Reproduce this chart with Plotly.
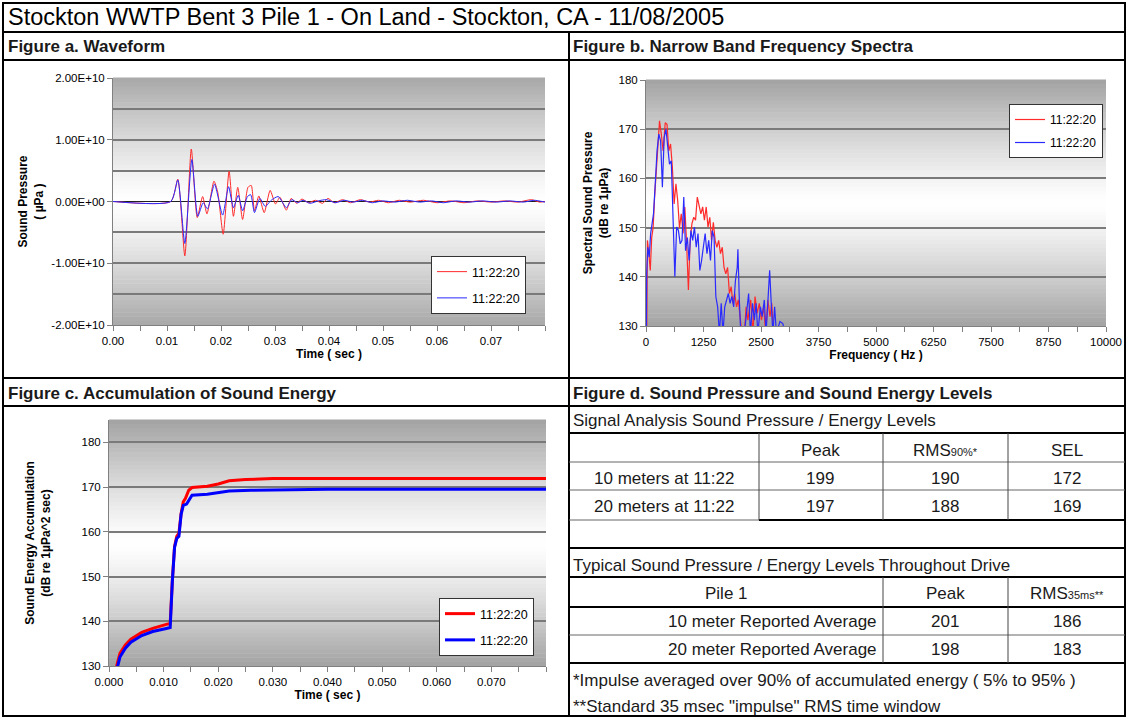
import plotly.graph_objects as go

W, H = 1128, 719
FONT = "Arial, 'Liberation Sans', sans-serif"

# ---------------- DATA ----------------
# Figure a: waveform (time in sec, sound pressure in µPa)
wave_time_red = [0.0000, 0.0107, 0.0120, 0.0133, 0.0145, 0.0156, 0.0166, 0.0174, 0.0187, 0.0194,
                 0.0204, 0.0215, 0.0223, 0.0231, 0.0240, 0.0250, 0.0256, 0.0262, 0.0270, 0.0280,
                 0.0291, 0.0301, 0.0309, 0.0321, 0.0330, 0.0340, 0.0350, 0.0362, 0.0375, 0.0388,
                 0.0398, 0.0410, 0.0425, 0.0440, 0.0458, 0.0475, 0.0492, 0.0510, 0.0530, 0.0550,
                 0.0575, 0.0600, 0.0625, 0.0650, 0.0675, 0.0700, 0.0725, 0.0750, 0.0775, 0.0790, 0.0800]
wave_red = [0.0, 0.0, 3.6e9, -8.8e9, 8.5e9, -2.6e9, 0.8e9, -2.0e9, 3.3e9, 1.5e9,
            -5.3e9, 4.9e9, -2.4e9, 2.3e9, -2.9e9, 2.3e9, 2.6e9, -1.5e9, 0.9e9, -1.8e9,
            1.8e9, -0.4e9, 0.7e9, -1.4e9, 0.5e9, -0.3e9, 0.4e9, -0.2e9, 0.2e9, -0.3e9,
            0.5e9, -0.2e9, 0.3e9, -0.2e9, 0.3e9, -0.1e9, 0.2e9, -0.2e9, 0.2e9, -0.1e9,
            0.2e9, -0.2e9, 0.1e9, -0.2e9, 0.1e9, -0.1e9, 0.1e9, -0.1e9, 0.3e9, -0.1e9, 0.0]

wave_time_blue = [0.0000, 0.0107, 0.0120, 0.0133, 0.0146, 0.0157, 0.0167, 0.0175, 0.0188, 0.0203,
                  0.0214, 0.0223, 0.0232, 0.0240, 0.0249, 0.0255, 0.0262, 0.0272, 0.0282, 0.0293,
                  0.0306, 0.0321, 0.0331, 0.0342, 0.0352, 0.0365, 0.0380, 0.0395, 0.0412, 0.0428,
                  0.0445, 0.0462, 0.0480, 0.0500, 0.0522, 0.0545, 0.0568, 0.0590, 0.0612, 0.0635,
                  0.0660, 0.0685, 0.0710, 0.0735, 0.0760, 0.0780, 0.0800]
wave_blue = [0.0, 0.0, 3.5e9, -6.8e9, 6.8e9, -2.4e9, -0.2e9, -1.2e9, 2.8e9, -2.2e9,
             2.4e9, -1.0e9, 1.0e9, -1.5e9, 0.8e9, 1.1e9, -1.8e9, 0.5e9, -0.8e9, 0.2e9,
             0.8e9, -1.0e9, 0.3e9, -0.2e9, 0.2e9, -0.3e9, 0.1e9, 0.3e9, -0.2e9, 0.2e9,
             -0.1e9, 0.2e9, -0.2e9, 0.1e9, -0.1e9, 0.2e9, -0.1e9, 0.1e9, -0.2e9, 0.1e9,
             -0.1e9, 0.1e9, -0.1e9, 0.1e9, -0.1e9, 0.2e9, -0.1e9]

wave_yticks = [-2e10, -1e10, 0, 1e10, 2e10]
wave_yticklabels = ["-2.00E+10", "-1.00E+10", "0.00E+00", "1.00E+10", "2.00E+10"]
wave_xticks = [0.00, 0.01, 0.02, 0.03, 0.04, 0.05, 0.06, 0.07]
wave_xticklabels = ["0.00", "0.01", "0.02", "0.03", "0.04", "0.05", "0.06", "0.07"]

# Figure b: narrow band spectra (Hz, dB re 1µPa)
spec_freq_red = [15, 31, 62, 93, 124, 155, 186, 225, 263, 294, 333, 372, 418, 457, 496, 534, 573, 612,
                 651, 689, 728, 767, 806, 844, 883, 922, 960, 999, 1038, 1077, 1115, 1154, 1193, 1232,
                 1270, 1309, 1348, 1387, 1425, 1464, 1503, 1541, 1580, 1619, 1658, 1696, 1735, 1774,
                 1813, 1851, 1890, 1929, 1968, 2006, 2045, 2084, 2138, 2177, 2215, 2277, 2324, 2370,
                 2417, 2463, 2510, 2556, 2603, 2649, 2696, 2734, 2773]
spec_red = [128.0, 147.4, 144.7, 141.3, 148.0, 150.0, 156.0, 162.0, 167.6, 171.7, 169.0, 165.6, 171.3,
            171.0, 165.6, 167.0, 162.3, 154.8, 158.9, 155.5, 150.0, 152.8, 148.8, 154.2, 146.7, 137.3,
            147.4, 150.8, 152.1, 151.5, 156.2, 154.8, 152.8, 154.2, 151.5, 154.2, 150.1, 152.1, 147.4,
            151.1, 147.4, 146.0, 147.4, 144.7, 146.0, 141.9, 140.6, 141.9, 136.6, 138.0, 134.6, 136.6,
            133.9, 135.3, 132.6, 128.5, 128.5, 133.9, 131.2, 135.3, 128.5, 136.0, 132.6, 134.6, 131.2,
            133.9, 128.5, 135.3, 131.9, 134.6, 128.0]

spec_freq_blue = [8, 15, 39, 70, 101, 132, 163, 201, 240, 279, 318, 356, 395, 434, 472, 511, 550, 589,
                  627, 666, 705, 744, 783, 821, 860, 899, 937, 976, 1015, 1053, 1092, 1131, 1170, 1208,
                  1247, 1286, 1325, 1363, 1402, 1441, 1480, 1518, 1557, 1596, 1635, 1673, 1712, 1751,
                  1790, 1828, 1867, 1906, 1944, 1983, 1998, 2029, 2060, 2138, 2192, 2231, 2270, 2316,
                  2355, 2393, 2432, 2487, 2525, 2572, 2610, 2657, 2688, 2719, 2758, 2796, 2835, 2912,
                  2974, 3029]
spec_blue = [128.0, 140.7, 146.0, 144.0, 148.8, 150.8, 152.8, 158.9, 165.6, 169.0, 167.6, 158.2, 168.3,
             170.0, 166.3, 162.9, 163.6, 152.1, 140.0, 150.1, 149.4, 146.7, 147.4, 156.2, 145.3, 148.0,
             143.3, 149.4, 147.4, 150.1, 146.0, 148.8, 141.3, 143.3, 146.0, 148.8, 144.7, 147.4, 143.3,
             149.4, 148.0, 136.0, 133.9, 128.5, 134.6, 128.5, 133.9, 135.3, 136.6, 134.6, 136.0, 133.9,
             139.2, 141.9, 145.6, 135.3, 128.5, 128.5, 133.9, 136.6, 128.5, 134.6, 131.2, 134.6, 128.5,
             133.9, 131.9, 135.3, 128.5, 136.6, 141.3, 135.3, 128.5, 133.9, 128.5, 130.9, 130.5, 128.5]

spec_xticks = [0, 1250, 2500, 3750, 5000, 6250, 7500, 8750, 10000]
spec_xticklabels = ["0", "1250", "2500", "3750", "5000", "6250", "7500", "8750", "10000"]
spec_yticks = [130, 140, 150, 160, 170, 180]

# Figure c: accumulation of sound energy (sec, dB re 1µPa^2 sec)
acc_time_red = [0.0013, 0.0020, 0.0030, 0.0040, 0.0060, 0.0080, 0.0105, 0.0112, 0.0116, 0.0120,
                0.0124, 0.0128, 0.0132, 0.0136, 0.0140, 0.0146, 0.0152, 0.0180, 0.0200, 0.0220,
                0.0250, 0.0300, 0.0800]
acc_red = [129.5, 132.8, 134.7, 136.0, 137.5, 138.4, 139.3, 139.5, 149.2, 156.7,
           159.0, 159.7, 164.1, 166.7, 167.5, 169.3, 169.9, 170.2, 170.7, 171.4,
           171.7, 171.9, 171.9]
acc_time_blue = [0.0015, 0.0020, 0.0030, 0.0040, 0.0060, 0.0080, 0.0105, 0.0112, 0.0116, 0.0120,
                 0.0124, 0.0128, 0.0132, 0.0136, 0.0142, 0.0152, 0.0180, 0.0200, 0.0220, 0.0260,
                 0.0400, 0.0800]
acc_blue = [129.5, 132.0, 134.0, 135.3, 136.8, 137.7, 138.4, 138.6, 149.0, 156.5,
            158.5, 159.0, 163.9, 165.9, 166.2, 168.2, 168.4, 168.7, 169.1, 169.3,
            169.5, 169.5]
acc_xticks = [0.00, 0.01, 0.02, 0.03, 0.04, 0.05, 0.06, 0.07]
acc_yticks = [130, 140, 150, 160, 170, 180]

series_name = "11:22:20"

# Figure d: table values
table1_rows = ["10 meters at 11:22", "20 meters at 11:22"]
table1_peak = [199, 197]
table1_rms90 = [190, 188]
table1_sel = [172, 169]
table2_rows = ["10 meter Reported Average", "20 meter Reported Average"]
table2_peak = [201, 198]
table2_rms35 = [186, 183]


# ---------------- HELPERS ----------------
def fx(p):
    return p / W


def fy(p):
    return 1 - p / H


fig = go.Figure()

RED = "#ff2a2a"
BLUE = "#2a2aff"

# Figure a traces
fig.add_trace(go.Scatter(x=wave_time_red, y=wave_red, mode="lines", name=series_name,
                         line=dict(color=RED, width=1, shape="spline", smoothing=0.6),
                         xaxis="x", yaxis="y", legend="legend", legendgroup="ar"))
fig.add_trace(go.Scatter(x=wave_time_blue, y=wave_blue, mode="lines", name=series_name,
                         line=dict(color=BLUE, width=1, shape="spline", smoothing=0.6),
                         xaxis="x", yaxis="y", legend="legend", legendgroup="ab"))
# Figure b traces
fig.add_trace(go.Scatter(x=spec_freq_red, y=spec_red, mode="lines", name=series_name,
                         line=dict(color=RED, width=1.2), xaxis="x2", yaxis="y2",
                         legend="legend2", legendgroup="br"))
fig.add_trace(go.Scatter(x=spec_freq_blue, y=spec_blue, mode="lines", name=series_name,
                         line=dict(color=BLUE, width=1.2), xaxis="x2", yaxis="y2",
                         legend="legend2", legendgroup="bb"))
# Figure c traces
fig.add_trace(go.Scatter(x=acc_time_red, y=acc_red, mode="lines", name=series_name,
                         line=dict(color="#ff0000", width=3), xaxis="x3", yaxis="y3",
                         legend="legend3", legendgroup="cr"))
fig.add_trace(go.Scatter(x=acc_time_blue, y=acc_blue, mode="lines", name=series_name,
                         line=dict(color="#0000ff", width=3), xaxis="x3", yaxis="y3",
                         legend="legend3", legendgroup="cb"))

GRID = "#7a7a7a"
AX = "#808080"
tickfont = dict(family=FONT, size=11.5, color="black")
titlefont = dict(family=FONT, size=12, color="black")


def axis(**kw):
    d = dict(showline=True, linecolor=AX, linewidth=1, ticks="outside", ticklen=5,
             tickcolor=AX, tickfont=tickfont, automargin=False, zeroline=False,
             showgrid=False, fixedrange=True)
    d.update(kw)
    return d


layout = dict(
    width=W, height=H, autosize=False,
    margin=dict(l=0, r=0, t=0, b=0),
    paper_bgcolor="white", plot_bgcolor="white",
    font=dict(family=FONT, color="black"),
    xaxis=axis(domain=[fx(113), fx(545)], anchor="y", range=[0, 0.08],
               tickvals=wave_xticks, ticktext=wave_xticklabels,
               minor=dict(dtick=0.005, tick0=0, ticks="outside", ticklen=5, tickcolor=AX),
               title=dict(text="<b>Time ( sec )</b>", font=titlefont, standoff=3)),
    yaxis=axis(domain=[fy(325), fy(78)], anchor="x", range=[-2e10, 2e10],
               tickvals=wave_yticks, ticktext=wave_yticklabels,
               zeroline=True, zerolinecolor="#202020", zerolinewidth=1,
               minor=dict(tickvals=[-1.5e10, -1e10, -0.5e10, 0.5e10, 1e10, 1.5e10],
                          showgrid=True, gridcolor=GRID, gridwidth=1.5, ticks=""),
               title=dict(text="<b>Sound Pressure<br>( µPa )</b>", font=titlefont, standoff=5)),
    xaxis2=axis(domain=[fx(646), fx(1106)], anchor="y2", range=[0, 10000],
                tickvals=spec_xticks, ticktext=spec_xticklabels,
                minor=dict(dtick=625, tick0=0, ticks="outside", ticklen=5, tickcolor=AX),
                title=dict(text="<b>Frequency ( Hz )</b>", font=titlefont, standoff=3)),
    yaxis2=axis(domain=[fy(326), fy(80)], anchor="x2", range=[130, 180],
                tickvals=spec_yticks,
                minor=dict(tickvals=[140, 150, 160, 170], showgrid=True, gridcolor=GRID,
                           gridwidth=1.5, ticks=""),
                title=dict(text="<b>Spectral Sound Pressure<br>(dB re 1µPa)</b>", font=titlefont, standoff=7)),
    xaxis3=axis(domain=[fx(109), fx(546)], anchor="y3", range=[0, 0.08],
                tickvals=acc_xticks, tickformat=".3f",
                minor=dict(dtick=0.005, tick0=0, ticks="outside", ticklen=5, tickcolor=AX),
                title=dict(text="<b>Time ( sec )</b>", font=titlefont, standoff=3)),
    yaxis3=axis(domain=[fy(666), fy(420)], anchor="x3", range=[130, 185],
                tickvals=acc_yticks,
                minor=dict(tickvals=[140, 150, 160, 170, 180], showgrid=True, gridcolor=GRID,
                           gridwidth=1.5, ticks=""),
                title=dict(text="<b>Sound Energy Accumulation<br>(dB re 1µPa^2 sec)</b>",
                           font=titlefont, standoff=28)),
    legend=dict(x=fx(431), y=fy(256), xanchor="left", yanchor="top", bgcolor="white",
                bordercolor="#333", borderwidth=1, font=dict(family=FONT, size=12.5),
                itemwidth=30, tracegroupgap=7),
    legend2=dict(x=fx(1009), y=fy(104), xanchor="left", yanchor="top", bgcolor="white",
                 bordercolor="#333", borderwidth=1, font=dict(family=FONT, size=12),
                 itemwidth=30, tracegroupgap=4),
    legend3=dict(x=fx(439), y=fy(598), xanchor="left", yanchor="top", bgcolor="white",
                 bordercolor="#333", borderwidth=1, font=dict(family=FONT, size=12.5),
                 itemwidth=30, tracegroupgap=7),
    showlegend=True,
)
fig.update_layout(**layout)

# ---------------- gradient plot-area backgrounds ----------------
shapes = []


def gradient(xr, yr, edge=160, n=60):
    for i in range(n):
        mid = (i + 0.5) / n
        d = abs(mid - 0.5) * 2
        g = int(round(255 - (255 - edge) * d ** 1.25))
        shapes.append(dict(type="rect", xref=xr + " domain", yref=yr + " domain",
                           x0=0, x1=1, y0=i / n, y1=(i + 1) / n + 0.002,
                           fillcolor=f"rgb({g},{g},{g})", line=dict(width=0), layer="below"))


gradient("x", "y", edge=168)
gradient("x2", "y2", edge=162)
gradient("x3", "y3", edge=162)


# ---------------- frame lines ----------------
def hline(y, x0, x1, w=2, c="black"):
    shapes.append(dict(type="line", xref="paper", yref="paper", x0=fx(x0), x1=fx(x1),
                       y0=fy(y), y1=fy(y), line=dict(color=c, width=w)))


def vline(x, y0, y1, w=2, c="black"):
    shapes.append(dict(type="line", xref="paper", yref="paper", x0=fx(x), x1=fx(x),
                       y0=fy(y0), y1=fy(y1), line=dict(color=c, width=w)))


shapes.append(dict(type="rect", xref="paper", yref="paper", x0=fx(3), x1=fx(1125),
                   y0=fy(716), y1=fy(3), line=dict(color="black", width=2)))
hline(32, 3, 1125)
vline(569, 32, 716)
hline(60, 3, 1125)
hline(378, 3, 1125)
hline(406, 3, 1125)
# table lines
hline(433, 569, 1125)
hline(462, 569, 1125, 1, "#666")
hline(490, 569, 1125, 1, "#666")
hline(520, 569, 759, 1, "#666")
hline(520, 759, 1125, 2)
hline(548, 569, 1125)
hline(577, 569, 1125)
hline(607, 569, 1125)
hline(635, 569, 1125, 1, "#666")
hline(663, 569, 1125)
vline(759, 433, 520, 1, "#444")
vline(883, 433, 520, 1, "#444")
vline(1008, 433, 520, 1, "#444")
vline(883, 577, 663, 1, "#444")
vline(1008, 577, 663, 1, "#444")

fig.update_layout(shapes=shapes)

# ---------------- texts ----------------
ann = []


def text(x, y, s, size=17, anchor="left", bold=False, color="#1a1a1a"):
    ann.append(dict(x=fx(x), y=fy(y), xref="paper", yref="paper", text=(f"<b>{s}</b>" if bold else s),
                    showarrow=False, xanchor=anchor, yanchor="middle",
                    font=dict(family=FONT, size=size, color=color)))


text(6, 17, "Stockton WWTP Bent 3 Pile 1 - On Land - Stockton, CA - 11/08/2005", size=23.5, color="black")
text(6, 46, "Figure a. Waveform", bold=True)
text(571, 46, "Figure b. Narrow Band Frequency Spectra", bold=True)
text(6, 393, "Figure c. Accumulation of Sound Energy", bold=True)
text(571, 393, "Figure d. Sound Pressure and Sound Energy Levels", bold=True)

text(571, 420, "Signal Analysis Sound Pressure / Energy Levels")
text(820, 451, "Peak", anchor="center")
text(945, 451, "RMS<span style='font-size:11px'>90%</span><span style='font-size:11px'>*</span>", anchor="center")
text(1067, 451, "SEL", anchor="center")
for i, yy in enumerate([478, 506]):
    text(664, yy, table1_rows[i], anchor="center")
    text(820, yy, str(table1_peak[i]), anchor="center")
    text(945, yy, str(table1_rms90[i]), anchor="center")
    text(1067, yy, str(table1_sel[i]), anchor="center")

text(571, 565, "Typical Sound Pressure / Energy Levels Throughout Drive")
text(726, 593, "Pile 1", anchor="center")
text(945, 593, "Peak", anchor="center")
text(1067, 593, "RMS<span style='font-size:11px'>35ms</span><span style='font-size:11px'>**</span>", anchor="center")
for i, yy in enumerate([621, 649]):
    text(879, yy, table2_rows[i], anchor="right")
    text(945, yy, str(table2_peak[i]), anchor="center")
    text(1067, yy, str(table2_rms35[i]), anchor="center")

text(571, 680, "*Impulse averaged over 90% of accumulated energy ( 5% to 95% )")
text(571, 706, "**Standard 35 msec \"impulse\" RMS time window")

fig.update_layout(annotations=ann)

fig.write_html("out.html", config={"displayModeBar": False},
               post_script="document.body.style.margin='0';document.body.style.overflow='hidden';")
